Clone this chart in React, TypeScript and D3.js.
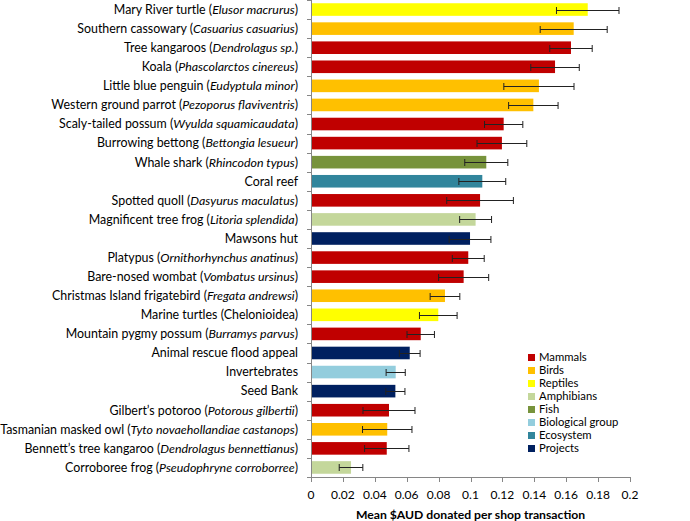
import React from "react";
import * as d3 from "d3";

const commonNames = [
  "Mary River turtle", "Southern cassowary", "Tree kangaroos", "Koala", "Little blue penguin",
  "Western ground parrot", "Scaly-tailed possum", "Burrowing bettong", "Whale shark", "Coral reef",
  "Spotted quoll", "Magnificent tree frog", "Mawsons hut", "Platypus", "Bare-nosed wombat",
  "Christmas Island frigatebird", "Marine turtles", "Mountain pygmy possum", "Animal rescue flood appeal",
  "Invertebrates", "Seed Bank", "Gilbert\u2019s potoroo", "Tasmanian masked owl",
  "Bennett\u2019s tree kangaroo", "Corroboree frog",
];
const scientificNames = [
  "Elusor macrurus", "Casuarius casuarius", "Dendrolagus sp.", "Phascolarctos cinereus", "Eudyptula minor",
  "Pezoporus flaviventris", "Wyulda squamicaudata", "Bettongia lesueur", "Rhincodon typus", "",
  "Dasyurus maculatus", "Litoria splendida", "", "Ornithorhynchus anatinus", "Vombatus ursinus",
  "Fregata andrewsi", "Chelonioidea", "Burramys parvus", "",
  "", "", "Potorous gilbertii", "Tyto novaehollandiae castanops",
  "Dendrolagus bennettianus", "Pseudophryne corroborree",
];
const italicScientific = [
  true, true, true, true, true, true, true, true, true, false,
  true, true, false, true, true, true, false, true, false,
  false, false, true, true, true, true,
];
const groups = [
  "Reptiles", "Birds", "Mammals", "Mammals", "Birds", "Birds", "Mammals", "Mammals", "Fish", "Ecosystem",
  "Mammals", "Amphibians", "Projects", "Mammals", "Mammals", "Birds", "Reptiles", "Mammals", "Projects",
  "Biological group", "Projects", "Mammals", "Birds", "Mammals", "Amphibians",
];
const meanValues = [
  0.1735, 0.1647, 0.163, 0.153, 0.1429, 0.1394, 0.1208, 0.1197, 0.1099, 0.1074,
  0.106, 0.1032, 0.0997, 0.0986, 0.0957, 0.084, 0.0798, 0.0688, 0.0619,
  0.0531, 0.0529, 0.0489, 0.0478, 0.0475, 0.0251,
];
const errorValues = [
  0.0196, 0.021, 0.0133, 0.0152, 0.022, 0.0155, 0.012, 0.0156, 0.0135, 0.0147,
  0.0209, 0.01, 0.0131, 0.01, 0.0157, 0.0093, 0.0118, 0.0086, 0.0065,
  0.006, 0.006, 0.0163, 0.0155, 0.0139, 0.0074,
];
const legendGroups = [
  "Mammals", "Birds", "Reptiles", "Amphibians", "Fish", "Biological group", "Ecosystem", "Projects",
];
const groupColors = [
  "#C00000", "#FFC000", "#FFFF00", "#C4D79B", "#77933C", "#93CDDD", "#31859C", "#002060",
];
const xTicks = [0, 0.02, 0.04, 0.06, 0.08, 0.1, 0.12, 0.14, 0.16, 0.18, 0.2];
const xTitle = "Mean $AUD donated per shop transaction";

const W = 690;
const H = 521;
const FONT = "Lato, 'Open Sans', sans-serif";

export default function App() {
  const left = 311;
  const right = 630;
  const top = 0;
  const bottom = 477;
  const x = d3.scaleLinear().domain([0, 0.2]).range([left, right]);
  const idx = d3.range(commonNames.length);
  const y = d3.scaleBand<number>().domain(idx).range([top, bottom]).paddingInner(0.34).paddingOuter(0.17);
  const color = d3.scaleOrdinal<string, string>().domain(legendGroups).range(groupColors);
  const step = y.step();
  const axisColor = "#868686";

  return (
    <svg width={W} height={H} style={{ position: "absolute", left: 0, top: 0, background: "#fff" }}
      fontFamily={FONT}>
      {/* bars */}
      {idx.map((i) => (
        <rect key={"b" + i} x={x(0)} y={y(i)} width={x(meanValues[i]) - x(0)} height={y.bandwidth()}
          fill={color(groups[i])} />
      ))}
      {/* error bars */}
      {idx.map((i) => {
        const cy = Math.round((y(i) as number) + y.bandwidth() / 2) + 0.5;
        const x1 = x(meanValues[i] - errorValues[i]);
        const x2 = x(meanValues[i] + errorValues[i]);
        return (
          <g key={"e" + i} stroke="#222" strokeWidth={1}>
            <line x1={x1} x2={x2} y1={cy} y2={cy} />
            <line x1={x1} x2={x1} y1={cy - 3.5} y2={cy + 3.5} />
            <line x1={x2} x2={x2} y1={cy - 3.5} y2={cy + 3.5} />
          </g>
        );
      })}
      {/* y axis */}
      <line x1={left + 0.5} x2={left + 0.5} y1={top} y2={bottom} stroke={axisColor} />
      {d3.range(commonNames.length + 1).map((k) => (
        <line key={"yt" + k} x1={left - 4} x2={left} y1={Math.round(top + k * step) + 0.5} y2={Math.round(top + k * step) + 0.5}
          stroke={axisColor} />
      ))}
      {/* x axis */}
      <line x1={left} x2={right} y1={bottom + 0.5} y2={bottom + 0.5} stroke={axisColor} />
      {xTicks.map((t) => (
        <g key={"xt" + t}>
          <line x1={Math.round(x(t)) + 0.5} x2={Math.round(x(t)) + 0.5} y1={bottom} y2={bottom + 5} stroke={axisColor} />
          <text x={x(t)} y={bottom + 22} textAnchor="middle" fontSize={12} fill="#000">
            {String(t)}
          </text>
        </g>
      ))}
      <text x={(left + right) / 2} y={bottom + 41.5} textAnchor="middle" fontSize={12.2} fontWeight="bold" fill="#000">
        {xTitle}
      </text>
      {/* category labels */}
      {idx.map((i) => {
        const cy = (y(i) as number) + y.bandwidth() / 2;
        return (
          <text key={"l" + i} x={left - 13} y={cy} dy="0.35em" textAnchor="end" fontSize={12.4} fill="#000">
            {commonNames[i]}
            {scientificNames[i] ? " (" : ""}
            {scientificNames[i] ? (
              <tspan fontStyle={italicScientific[i] ? "italic" : "normal"}>{scientificNames[i]}</tspan>
            ) : null}
            {scientificNames[i] ? ")" : ""}
          </text>
        );
      })}
      {/* legend */}
      {legendGroups.map((g, k) => {
        const ly = 357.5 + k * 13;
        return (
          <g key={"lg" + g}>
            <rect x={528} y={ly - 3.5} width={7} height={7} fill={color(g)} />
            <text x={539} y={ly} dy="0.35em" fontSize={11.3} fill="#000">{g}</text>
          </g>
        );
      })}
    </svg>
  );
}
